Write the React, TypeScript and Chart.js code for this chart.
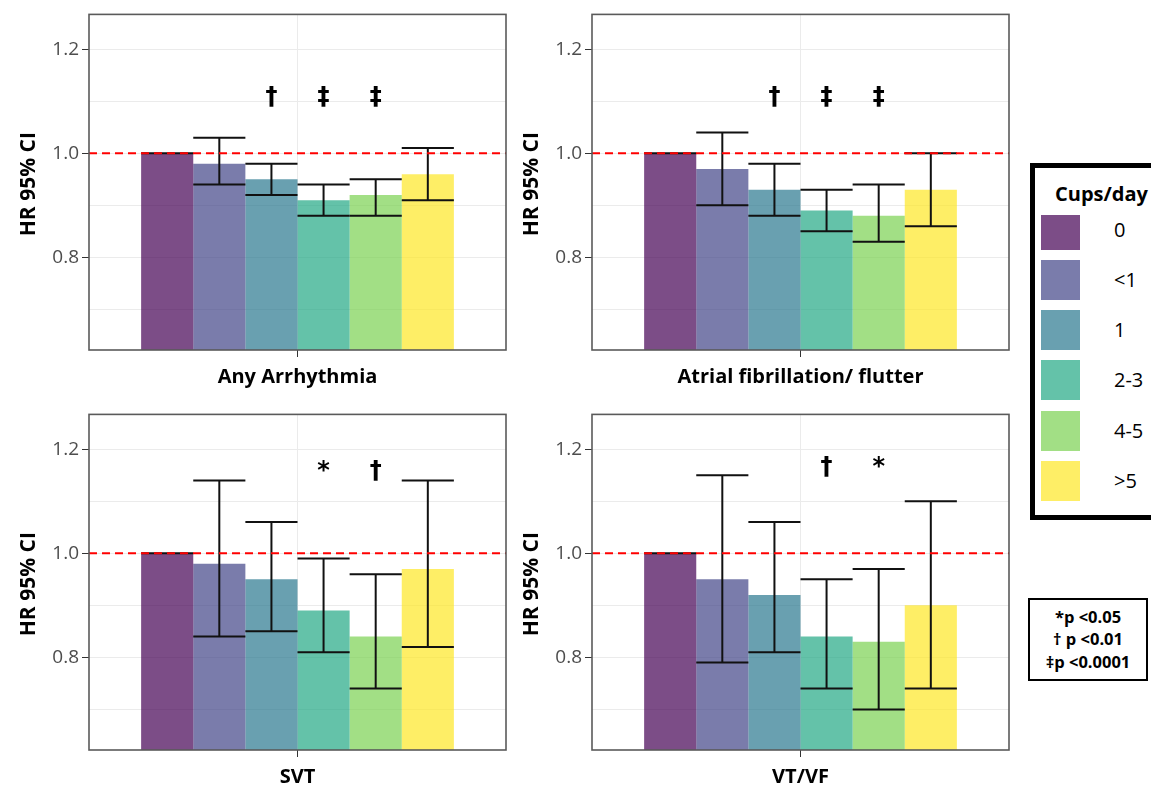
import React, { useEffect, useRef } from 'react';
import { Chart, registerables } from 'chart.js';

Chart.register(...registerables);

// ---------- data ----------
const cupsLabels = ['0', '<1', '1', '2-3', '4-5', '>5'];
const cupsColors = [
  'rgba(68,1,84,0.7)',
  'rgba(65,68,135,0.7)',
  'rgba(42,120,142,0.7)',
  'rgba(34,168,132,0.7)',
  'rgba(122,209,81,0.7)',
  'rgba(253,231,37,0.7)',
];

const yTickValues = [0.7, 0.8, 0.9, 1.0, 1.1, 1.2];
const yLabelValues = [0.8, 1.0, 1.2];

const anyHR = [1.0, 0.98, 0.95, 0.91, 0.92, 0.96];
const anyLo = [1.0, 0.94, 0.92, 0.88, 0.88, 0.91];
const anyHi = [1.0, 1.03, 0.98, 0.94, 0.95, 1.01];
const anySig = ['', '', '†', '‡', '‡', ''];

const afHR = [1.0, 0.97, 0.93, 0.89, 0.88, 0.93];
const afLo = [1.0, 0.9, 0.88, 0.85, 0.83, 0.86];
const afHi = [1.0, 1.04, 0.98, 0.93, 0.94, 1.0];
const afSig = ['', '', '†', '‡', '‡', ''];

const svtHR = [1.0, 0.98, 0.95, 0.89, 0.84, 0.97];
const svtLo = [1.0, 0.84, 0.85, 0.81, 0.74, 0.82];
const svtHi = [1.0, 1.14, 1.06, 0.99, 0.96, 1.14];
const svtSig = ['', '', '', '*', '†', ''];

const vtHR = [1.0, 0.95, 0.92, 0.84, 0.83, 0.9];
const vtLo = [1.0, 0.79, 0.81, 0.74, 0.7, 0.74];
const vtHi = [1.0, 1.15, 1.06, 0.95, 0.97, 1.1];
const vtSig = ['', '', '', '†', '*', ''];

const pLegend = ['*p <0.05', '† p <0.01', '‡p <0.0001'];

const FONT = '"Open Sans", "DejaVu Sans", sans-serif';

const panelDeco = {
  id: 'panelDeco',
  afterDatasetsDraw(chart: any, _args: any, opts: any) {
    const ctx = chart.ctx;
    const area = chart.chartArea;
    const ys = chart.scales.y;
    ctx.save();
    ctx.beginPath();
    ctx.rect(area.left, area.top, area.right - area.left, area.bottom - area.top);
    ctx.clip();
    // error bars
    chart.data.datasets.forEach((ds: any, i: number) => {
      const bar = chart.getDatasetMeta(i).data[0];
      const { x, width } = bar.getProps(['x', 'width'], true);
      const yLo = ys.getPixelForValue(ds.lo);
      const yHi = ys.getPixelForValue(ds.hi);
      ctx.strokeStyle = '#111';
      ctx.lineWidth = 2;
      ctx.setLineDash([]);
      ctx.beginPath();
      ctx.moveTo(x - width / 2, yLo);
      ctx.lineTo(x + width / 2, yLo);
      ctx.moveTo(x - width / 2, yHi);
      ctx.lineTo(x + width / 2, yHi);
      ctx.moveTo(x, yLo);
      ctx.lineTo(x, yHi);
      ctx.stroke();
      if (ds.sig) {
        ctx.fillStyle = '#000';
        ctx.font = 'bold 24px "DejaVu Sans", sans-serif';
        ctx.textAlign = 'center';
        ctx.textBaseline = 'middle';
        ctx.fillText(ds.sig, x, ys.getPixelForValue(opts.sigY));
      }
    });
    // reference line
    const y1 = ys.getPixelForValue(1.0);
    ctx.strokeStyle = '#ff0000';
    ctx.lineWidth = 2;
    ctx.setLineDash([8, 5]);
    ctx.beginPath();
    ctx.moveTo(area.left, y1);
    ctx.lineTo(area.right, y1);
    ctx.stroke();
    ctx.restore();
  },
  afterDraw(chart: any, _args: any, opts: any) {
    const ctx = chart.ctx;
    const area = chart.chartArea;
    ctx.save();
    ctx.strokeStyle = '#5a5a5a';
    ctx.lineWidth = 1.6;
    ctx.setLineDash([]);
    ctx.strokeRect(area.left, area.top, area.right - area.left, area.bottom - area.top);
    // x title
    ctx.fillStyle = '#000';
    ctx.font = `bold 20px ${FONT}`;
    ctx.textAlign = 'center';
    ctx.textBaseline = 'middle';
    ctx.fillText(opts.title, (area.left + area.right) / 2, area.bottom + 27);
    // y title
    ctx.translate(29, (area.top + area.bottom) / 2 + 2);
    ctx.rotate(-Math.PI / 2);
    ctx.font = `bold 21px ${FONT}`;
    ctx.fillText('HR 95% CI', 0, 0);
    ctx.restore();
  },
};

type PanelProps = {
  title: string;
  hr: number[];
  lo: number[];
  hi: number[];
  sig: string[];
  sigY: number;
  left: number;
  top: number;
};

function Panel({ title, hr, lo, hi, sig, sigY, left, top }: PanelProps) {
  const ref = useRef<HTMLCanvasElement>(null);
  useEffect(() => {
    const isMajor = (v: number) => yLabelValues.some((l) => Math.abs(l - v) < 1e-6);
    const chart = new Chart(ref.current as HTMLCanvasElement, {
      type: 'bar',
      data: {
        labels: [title],
        datasets: cupsLabels.map((c, i) => ({
          label: c,
          data: [hr[i]],
          backgroundColor: cupsColors[i],
          borderWidth: 0,
          categoryPercentage: 0.75,
          barPercentage: 1,
          lo: lo[i],
          hi: hi[i],
          sig: sig[i],
        })) as any,
      },
      options: {
        responsive: false,
        animation: false,
        layout: { padding: { left: 0, top: 13, right: 4, bottom: 0 } },
        plugins: {
          legend: { display: false },
          tooltip: { enabled: false },
          panelDeco: { title, sigY },
        } as any,
        scales: {
          x: {
            grid: { offset: false, color: '#ebebeb', tickColor: '#333', tickLength: 7, lineWidth: 1 },
            border: { display: false },
            ticks: { display: false },
            afterFit: (s: any) => {
              s.height = 50;
            },
          },
          y: {
            min: 0.622,
            max: 1.267,
            afterBuildTicks: (s: any) => {
              s.ticks = yTickValues.map((v) => ({ value: v }));
            },
            ticks: {
              autoSkip: false,
              callback: (v: any) => (isMajor(Number(v)) ? Number(v).toFixed(1) : ''),
              color: '#4d4d4d',
              font: { family: FONT, size: 19 },
              padding: 3,
            },
            grid: {
              color: '#ebebeb',
              lineWidth: 1,
              tickLength: 7,
              tickColor: (c: any) => (c.tick && isMajor(c.tick.value) ? '#333' : 'rgba(0,0,0,0)'),
            },
            border: { display: false },
            afterFit: (s: any) => {
              s.width = 89;
            },
          },
        },
      },
      plugins: [panelDeco],
    });
    return () => chart.destroy();
  }, []);
  return (
    <canvas
      ref={ref}
      width={510}
      height={400}
      style={{ position: 'absolute', left, top, width: 510, height: 400 }}
    />
  );
}

export default function App() {
  return (
    <div
      style={{
        position: 'fixed',
        left: 0,
        top: 0,
        width: 1151,
        height: 792,
        overflow: 'hidden',
        background: '#fff',
        fontFamily: FONT,
      }}
    >
      <Panel title="Any Arrhythmia" hr={anyHR} lo={anyLo} hi={anyHi} sig={anySig} sigY={1.107} left={0} top={0} />
      <Panel title="Atrial fibrillation/ flutter" hr={afHR} lo={afLo} hi={afHi} sig={afSig} sigY={1.107} left={503} top={0} />
      <Panel title="SVT" hr={svtHR} lo={svtLo} hi={svtHi} sig={svtSig} sigY={1.157} left={0} top={400} />
      <Panel title="VT/VF" hr={vtHR} lo={vtLo} hi={vtHi} sig={vtSig} sigY={1.165} left={503} top={400} />

      {/* colour legend */}
      <div
        style={{
          position: 'absolute',
          left: 1030,
          top: 163,
          width: 150,
          height: 347,
          border: '5px solid #000',
          background: '#fff',
        }}
      >
        {cupsLabels.map((c, i) => (
          <React.Fragment key={c}>
            <div
              style={{
                position: 'absolute',
                left: 6,
                top: 41.5 + i * 50.3,
                width: 39,
                height: 40,
                background: cupsColors[i],
              }}
            />
            <div
              style={{
                position: 'absolute',
                left: 79,
                top: 41.5 + i * 50.3,
                height: 40,
                lineHeight: '40px',
                fontSize: 20,
                color: '#000',
                whiteSpace: 'nowrap',
              }}
            >
              {c}
            </div>
          </React.Fragment>
        ))}
        <div
          style={{
            position: 'absolute',
            left: 0,
            top: 0,
            width: 140,
            height: 47,
            background: '#fff',
          }}
        >
          <div
            style={{
              position: 'absolute',
              left: 20,
              top: 14,
              fontWeight: 700,
              fontSize: 20,
              lineHeight: '24px',
              whiteSpace: 'nowrap',
              color: '#000',
            }}
          >
            Cups/day
          </div>
        </div>
      </div>

      {/* significance legend */}
      <div
        style={{
          position: 'absolute',
          left: 1028,
          top: 598,
          width: 116,
          height: 79,
          border: '2px solid #000',
          display: 'flex',
          flexDirection: 'column',
          alignItems: 'center',
          justifyContent: 'center',
          fontWeight: 700,
          fontSize: 16.5,
          lineHeight: '22.5px',
          color: '#000',
        }}
      >
        {pLegend.map((t) => (
          <div key={t} style={{ whiteSpace: 'nowrap' }}>
            {t}
          </div>
        ))}
      </div>
    </div>
  );
}
